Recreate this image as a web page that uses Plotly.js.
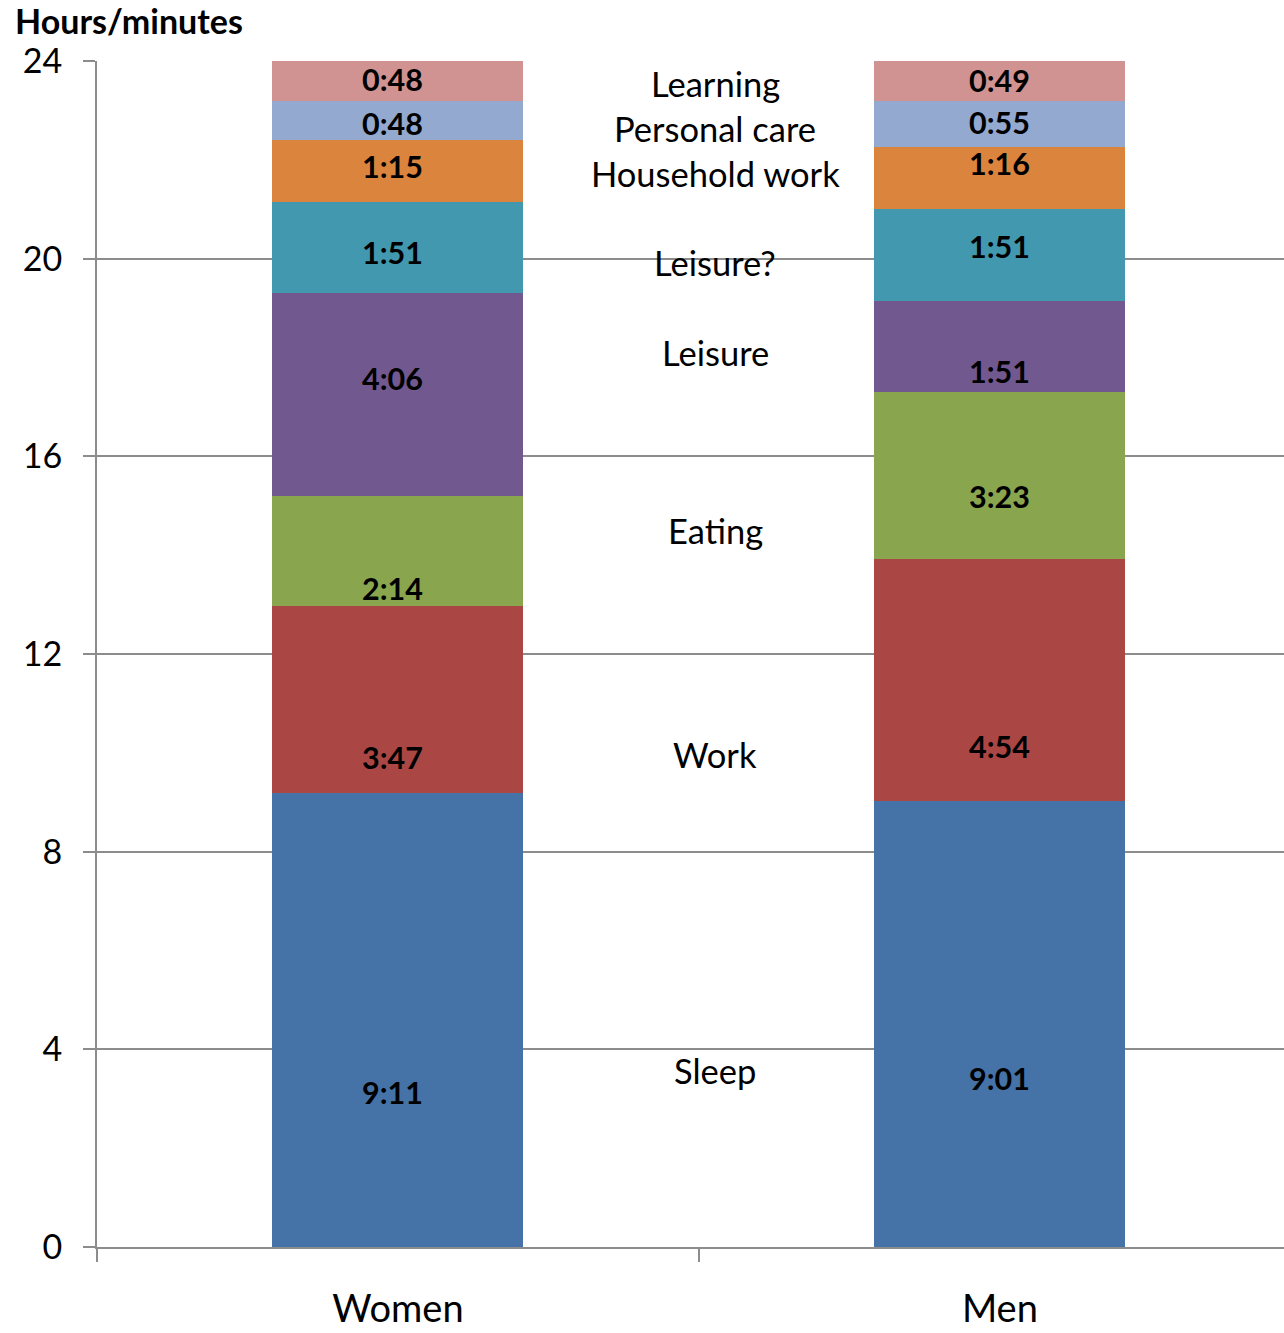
<!DOCTYPE html>
<html>
<head>
<meta charset="utf-8">
<script src="https://cdn.plot.ly/plotly-3.0.1.min.js"></script>
<style>
  html, body { margin: 0; padding: 0; background: #fff; }
  #chart { width: 1284px; height: 1333px; }
</style>
</head>
<body>
<div id="chart"></div>
<script>
// ---- data ----
const groups = ['Women', 'Men'];
const activities = ['Sleep', 'Work', 'Eating', 'Leisure', 'Leisure?', 'Household work', 'Personal care', 'Learning'];
const women = ['9:11', '3:47', '2:14', '4:06', '1:51', '1:15', '0:48', '0:48'];
const men   = ['9:01', '4:54', '3:23', '1:51', '1:51', '1:16', '0:55', '0:49'];
const colors = ['#4573A7', '#AA4744', '#89A54E', '#71588F', '#4198AF', '#DB843D', '#93A9CF', '#D19392'];
const yTicks = [0, 4, 8, 12, 16, 20, 24];

// label anchor heights (hours) as placed in the reference
const womenLabelY = [3.14, 9.92, 13.33, 17.58, 20.13, 21.87, 22.74, 23.63];
const menLabelY   = [3.42, 10.14, 15.20, 17.73, 20.25, 21.93, 22.76, 23.61];
const midLabelY   = [3.58, 9.96, 14.49, 18.11, 19.93, 21.73, 22.64, 23.55];

function toHours(s) { const p = s.split(':'); return Number(p[0]) + Number(p[1]) / 60; }

const FONT = 'Lato, "Open Sans", sans-serif';

const traces = activities.map((a, i) => ({
  type: 'bar',
  name: a,
  x: groups,
  y: [toHours(women[i]), toHours(men[i])],
  marker: { color: colors[i], line: { width: 0 } },
  width: 0.417,
  hoverinfo: 'skip'
}));

const annotations = [];
activities.forEach((a, i) => {
  annotations.push({ x: 'Women', y: womenLabelY[i], xref: 'x', yref: 'y', xshift: -5, text: '<b>' + women[i] + '</b>',
    showarrow: false, font: { family: FONT, size: 30.5, color: '#000' }, xanchor: 'center', yanchor: 'middle' });
  annotations.push({ x: 'Men', y: menLabelY[i], xref: 'x', yref: 'y', text: '<b>' + men[i] + '</b>',
    showarrow: false, font: { family: FONT, size: 30.5, color: '#000' }, xanchor: 'center', yanchor: 'middle' });
  annotations.push({ x: 0.527, y: midLabelY[i], xref: 'x', yref: 'y', text: a,
    showarrow: false, font: { family: FONT, size: 34.5, color: '#000' }, xanchor: 'center', yanchor: 'middle' });
});

const layout = {
  width: 1284, height: 1333,
  margin: { l: 97, r: 0, t: 61, b: 86, pad: 0 },
  paper_bgcolor: '#fff', plot_bgcolor: '#fff',
  barmode: 'stack',
  showlegend: false,
  title: {
    text: '<b>Hours/minutes</b>',
    xref: 'container', yref: 'container',
    x: 15 / 1284, xanchor: 'left',
    y: 1 - 22 / 1333, yanchor: 'middle',
    font: { family: FONT, size: 34, color: '#000' }
  },
  xaxis: {
    type: 'category',
    range: [-0.5, 1.472],
    showgrid: false,
    showline: true, linecolor: '#8c8c8c', linewidth: 2,
    ticks: 'outside', ticklen: 13, tickwidth: 2, tickcolor: '#8c8c8c',
    tickson: 'boundaries',
    ticklabelstandoff: 27,
    tickfont: { family: FONT, size: 38, color: '#000' },
    zeroline: false, fixedrange: true
  },
  yaxis: {
    range: [0, 24],
    tickvals: yTicks,
    ticktext: yTicks.map(String),
    showgrid: true, gridcolor: '#8c8c8c', gridwidth: 2,
    showline: true, linecolor: '#8c8c8c', linewidth: 2,
    ticks: 'outside', ticklen: 12, tickwidth: 2, tickcolor: '#8c8c8c',
    ticklabelstandoff: 14,
    tickfont: { family: FONT, size: 34, color: '#000' },
    zeroline: false, fixedrange: true
  },
  annotations: annotations
};

Plotly.newPlot('chart', traces, layout, { displayModeBar: false, staticPlot: true });
</script>
</body>
</html>
